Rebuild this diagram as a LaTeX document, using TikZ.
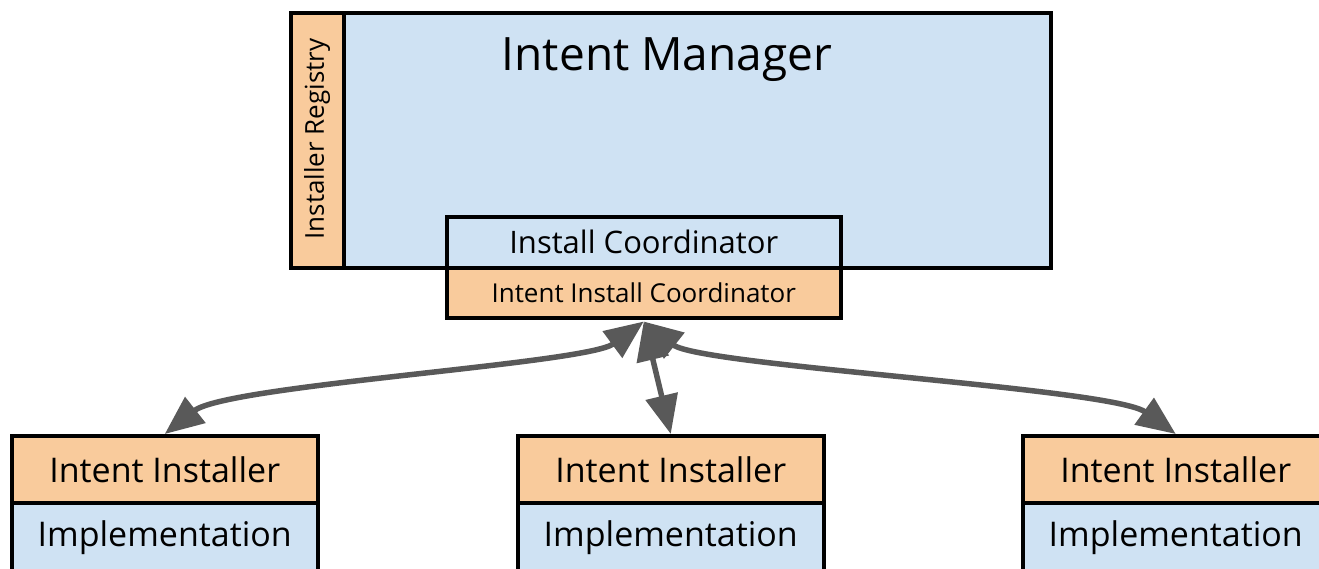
\documentclass[tikz,border=0pt]{standalone}
\usepackage{fontspec}
\setmainfont{Open Sans}
\usetikzlibrary{arrows.meta}
\definecolor{paleblue}{HTML}{CFE2F3}
\definecolor{paleorange}{HTML}{F9CB9C}
\definecolor{arrowgray}{HTML}{595959}
\tikzset{
  box/.style={draw=black, line width=3.5pt, inner sep=0pt, anchor=north west},
  bluebox/.style={box, fill=paleblue},
  orangebox/.style={box, fill=paleorange},
  compbox/.style={minimum width=306pt, minimum height=67pt, font=\fontsize{34}{34}\selectfont},
  link/.style={draw=arrowgray, line width=5.5pt, {Triangle[length=39pt,width=32pt]}-{Triangle[length=39pt,width=32pt]}},
}
\begin{document}
\begin{tikzpicture}[x=1pt,y=-1pt]
\useasboundingbox (0,0) rectangle (1319,568);

% Intent Manager with its registry column
\node[bluebox, minimum width=760pt, minimum height=255pt] (manager) at (289,11) {};
\node[anchor=base, font=\fontsize{46}{46}\selectfont] (title) at (667,70) {Intent Manager};
\node[orangebox, minimum width=53pt, minimum height=255pt] (registry) at (289,11) {};
\node[rotate=90, font=\fontsize{26}{26}\selectfont] (registrylabel) at (317,139) {Installer Registry};

% Coordinator pair straddling the manager's lower edge
\node[bluebox, minimum width=394pt, minimum height=51pt, font=\fontsize{31}{31}\selectfont] (coord) at (445,215) {Install Coordinator};
\node[orangebox, minimum width=394pt, minimum height=50pt, font=\fontsize{26}{26}\selectfont] (icoord) at (445,266) {Intent Install Coordinator};

% Installers
\node[orangebox, compbox] (inst1) at (10,434) {Intent Installer};
\node[bluebox, compbox, minimum height=70pt] (impl1) at (10,501) {Implementation};
\node[orangebox, compbox] (inst2) at (516,434) {Intent Installer};
\node[bluebox, compbox, minimum height=70pt] (impl2) at (516,501) {Implementation};
\node[orangebox, compbox] (inst3) at (1021,434) {Intent Installer};
\node[bluebox, compbox, minimum height=70pt] (impl3) at (1021,501) {Implementation};

% Links between the coordinator and each installer
\coordinate (hub) at ([yshift=-2pt]icoord.south);
\draw[link] (inst1.north) .. controls (227,385) and (586,364) .. (hub);
\draw[link] (inst2.north) -- (hub);
\draw[link] (inst3.north) .. controls (1112,388) and (700,366) .. (hub);
\end{tikzpicture}
\end{document}
